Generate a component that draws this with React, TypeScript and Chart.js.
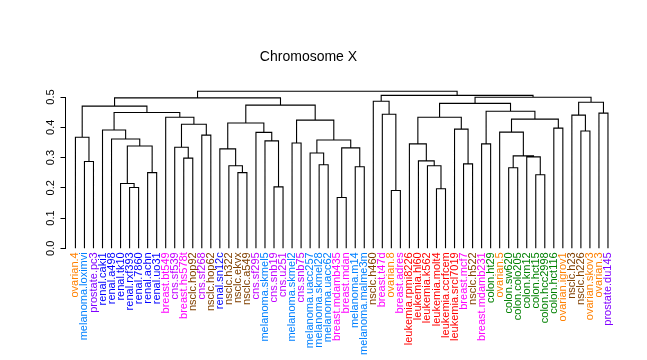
import { useEffect, useRef } from "react";
import { Chart, registerables } from "chart.js";

Chart.register(...registerables);

const titleText = "Chromosome X";

const leafLabels = [
  "ovarian.4", "melanoma.loximvi", "prostate.pc3", "renal.caki1", "renal.a498",
  "renal.tk10", "renal.rxf393", "renal.7860", "renal.achn", "renal.uo31",
  "breast.bt549", "cns.sf539", "breast.hs578t", "nsclc.hop92", "cns.sf268",
  "nsclc.hop62", "renal.sn12c", "nsclc.h322", "nsclc.ekvx", "nsclc.a549",
  "cns.sf295", "melanoma.skmel5", "cns.snb19", "cns.u251", "melanoma.skmel2",
  "cns.snb75", "melanoma.uacc257", "melanoma.skmel28", "melanoma.uacc62", "breast.mdamb435",
  "breast.mdan", "melanoma.m14", "melanoma.malme3m", "nsclc.h460", "breast.t47d",
  "ovarian.8", "breast.adres", "leukemia.rpmi8226", "leukemia.hl60", "leukemia.k562",
  "leukemia.molt4", "leukemia.ccrfcem", "leukemia.srcl7019", "breast.mcf7", "nsclc.h522",
  "breast.mdamb231", "colon.ht29", "ovarian.5", "colon.sw620", "colon.colo205",
  "colon.km12", "colon.hct15", "colon.hcc2998", "colon.hct116", "ovarian.igrov1",
  "nsclc.h23", "nsclc.h226", "ovarian.skov3", "ovarian.3", "prostate.du145",
];

const classNames = ["ovarian", "melanoma", "prostate", "renal", "breast", "cns", "nsclc", "leukemia", "colon"];
const classColors = ["#FF8000", "#0080FF", "#8000FF", "#0000FF", "#FF00FF", "#C000FF", "#804000", "#FF0000", "#008000"];

// hclust-style merges: negative = leaf -(index+1), positive = earlier merge (1-based)
const mergeLeft = [
  -2, -1, -7, -6, -9, 4, -5, -4, -13, -12, -15, 10, -11, 8, 2,
  -19, -18, -17, -23, -22, -21, 18, -25, -28, -27, -30, -32, 26, 25, 23, 22, 15,
  -36, -35, -34, -41, -40, -39, -38, -44, -43, 39, -46, -49, -52, -51, 44, -48, -54, 48, 43, 42,
  -57, -56, -59, 54, 52, 35, 32,
];
const mergeRight = [
  -3, 1, -8, 3, -10, 5, 6, 7, -14, 9, -16, 11, 12, 13, 14,
  -20, 16, 17, -24, 19, 20, 21, -26, -29, 24, -31, -33, 27, 28, 29, 30, 31,
  -37, 33, 34, -42, 36, 37, 38, -45, 40, 41, -47, -50, -53, 45, 46, 47, -55, 49, 50, 51,
  -58, 53, -60, 55, 56, 57, 58,
];
const mergeHeight = [
  0.287, 0.367, 0.201, 0.214, 0.25, 0.338, 0.361, 0.391, 0.298, 0.334, 0.374, 0.41, 0.433, 0.449, 0.47,
  0.25, 0.273, 0.3285, 0.203, 0.355, 0.383, 0.414, 0.348, 0.276, 0.315, 0.168, 0.2695, 0.332, 0.358, 0.4236, 0.473, 0.497,
  0.191, 0.443, 0.486, 0.197, 0.273, 0.289, 0.345, 0.279, 0.394, 0.433, 0.345, 0.266, 0.243, 0.302, 0.3055, 0.384, 0.397, 0.427, 0.453, 0.479,
  0.3875, 0.44, 0.4466, 0.4826, 0.499, 0.5055, 0.519,
];

const yTickValues = [0, 0.1, 0.2, 0.3, 0.4, 0.5];

const FONT = '"Liberation Sans", Arial, Helvetica, sans-serif';

function colorForLeaf(i: number): string {
  const lab = leafLabels[i] || "";
  const cls = lab.split(".")[0];
  const k = classNames.indexOf(cls);
  return k >= 0 ? classColors[k] : "#000";
}

function buildSegments() {
  const nodeX: number[] = [];
  const nodeH: number[] = [];
  const pos = (ref: number) => (ref < 0 ? -ref - 1 : nodeX[ref - 1]);
  const hgt = (ref: number) => (ref < 0 ? 0 : nodeH[ref - 1]);
  const pts: { x: number | null; y: number | null }[] = [];
  for (let m = 0; m < mergeHeight.length; m++) {
    const a = mergeLeft[m];
    const b = mergeRight[m];
    const xa = pos(a);
    const xb = pos(b);
    const h = mergeHeight[m];
    pts.push({ x: xa, y: hgt(a) });
    pts.push({ x: xa, y: h });
    pts.push({ x: xb, y: h });
    pts.push({ x: xb, y: hgt(b) });
    pts.push({ x: null, y: null });
    nodeX.push((xa + xb) / 2);
    nodeH.push(h);
  }
  return pts;
}

const yLabelPlugin = {
  id: "yLabels",
  afterDraw(chart: any) {
    const ctx = chart.ctx;
    const ys = chart.scales.y;
    ctx.save();
    ctx.font = `11px ${FONT}`;
    ctx.fillStyle = "#000";
    ctx.textAlign = "center";
    ctx.textBaseline = "middle";
    for (const v of yTickValues) {
      const py = ys.getPixelForValue(v);
      ctx.save();
      ctx.translate(50.5, py);
      ctx.rotate(-Math.PI / 2);
      ctx.fillText(v.toFixed(1), 0, 0);
      ctx.restore();
    }
    ctx.restore();
  },
};

export default function App() {
  const ref = useRef<HTMLCanvasElement | null>(null);
  useEffect(() => {
    if (!ref.current) return;
    const chart = new Chart(ref.current, {
      type: "line",
      data: {
        datasets: [
          {
            data: buildSegments() as any,
            borderColor: "#000",
            borderWidth: 1.1,
            pointRadius: 0,
            tension: 0,
            spanGaps: false,
            fill: false,
            clip: false as any,
            borderJoinStyle: "miter",
            borderCapStyle: "butt",
          },
        ],
      },
      options: {
        animation: false,
        responsive: false,
        devicePixelRatio: 1,
        layout: { padding: { left: 0, right: 30, top: 0, bottom: 0 } },
        plugins: {
          legend: { display: false },
          tooltip: { enabled: false },
          title: {
            display: true,
            text: titleText,
            color: "#000",
            font: { family: FONT, size: 14, weight: "normal" as any },
            padding: { top: 48.6, bottom: 31.6 },
          },
        },
        scales: {
          x: {
            type: "linear",
            min: -1.1,
            max: 60,
            grid: { display: false, drawTicks: false },
            border: { display: false },
            afterBuildTicks: (scale: any) => {
              scale.ticks = leafLabels.map((_, i) => ({ value: i }));
            },
            afterFit: (scale: any) => {
              scale.height = 111.7;
            },
            ticks: {
              autoSkip: false,
              minRotation: 90,
              maxRotation: 90,
              padding: 4,
              font: { family: FONT, size: 11 },
              color: (c: any) => colorForLeaf(c.index),
              callback: (value: any) => leafLabels[value as number] ?? "",
            },
          },
          y: {
            type: "linear",
            min: 0,
            max: 0.5,
            afterFit: (scale: any) => {
              scale.width = 65.5;
            },
            ticks: { display: false, stepSize: 0.1 },
            grid: {
              display: true,
              drawOnChartArea: false,
              drawTicks: true,
              tickLength: 5,
              color: "#000",
              lineWidth: 1,
            },
            border: { display: true, color: "#000", width: 1 },
          },
        },
      },
      plugins: [yLabelPlugin],
    });
    return () => chart.destroy();
  }, []);
  return (
    <div style={{ position: "fixed", left: 0, top: 0, width: 647, height: 360, background: "#fff" }}>
      <canvas ref={ref} width={647} height={360} />
    </div>
  );
}
